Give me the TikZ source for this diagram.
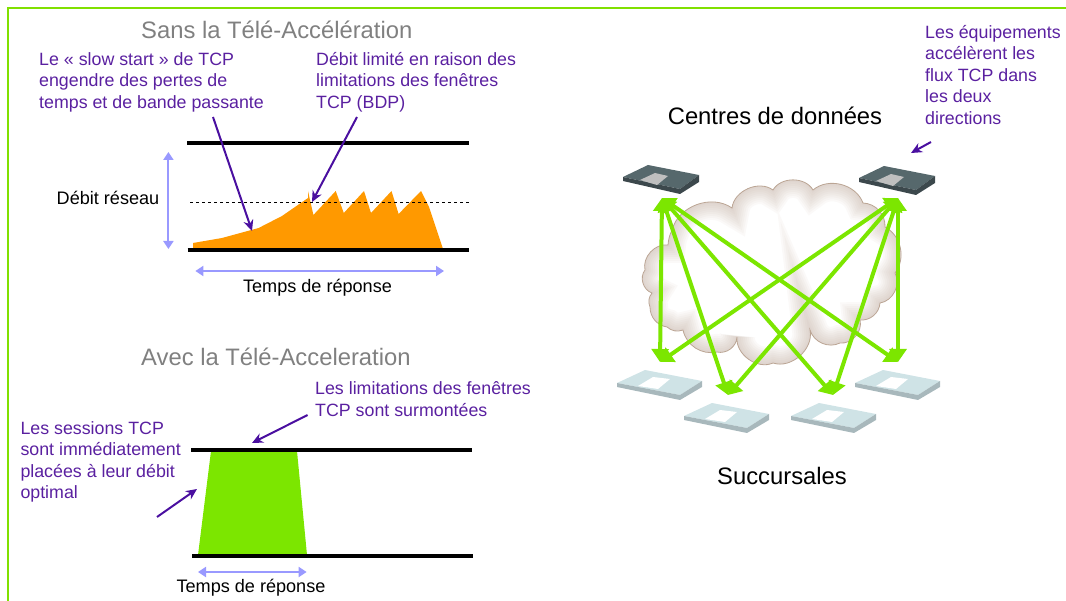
\documentclass[tikz,border=0pt]{standalone}
\usepackage{amsmath, xcolor}
\usepackage{fontspec}
\setmainfont{Liberation Sans}
\usetikzlibrary{arrows.meta}

\definecolor{framegreen}{HTML}{80E000}
\definecolor{flowgreen}{HTML}{7CE600}
\definecolor{notepurple}{HTML}{5A20A0}
\definecolor{arrowpurple}{HTML}{4A0FA0}
\definecolor{rangeblue}{HTML}{9999FF}
\definecolor{rateorange}{HTML}{FF9900}
\definecolor{cloudtan}{HTML}{BBA594}
\definecolor{darktop}{HTML}{56686C}
\definecolor{darkside}{HTML}{3C484C}
\definecolor{lighttop}{HTML}{CFE3E6}
\definecolor{lightside}{HTML}{A8B8BC}

\tikzset{
    plottitle/.style = {text = gray, font = \fontsize{23.8}{28}\selectfont, anchor = west, inner sep = 0},
    note/.style = {text = notepurple, font = \fontsize{17.8}{21.5}\selectfont, align = left, anchor = west, inner sep = 0},
    plain/.style = {font = \fontsize{18.1}{21}\selectfont, inner sep = 0},
    big/.style = {font = \fontsize{23.8}{28}\selectfont, inner sep = 0},
    bar/.style = {line width = 4.2pt},
    pointer/.style = {arrowpurple, line width = 2pt, -{Stealth[length = 11pt, width = 10pt]}},
    rangearrow/.style = {rangeblue, line width = 2pt, {Triangle[length = 8pt, width = 10pt]}-{Triangle[length = 8pt, width = 10pt]}},
    flow/.style = {flowgreen, line width = 4pt, {Triangle[length = 13pt, width = 17pt]}-{Triangle[length = 13pt, width = 17pt]}}
}

% device seen in perspective, #1 = left corner
\newcommand{\darkbox}[2]{
    \fill [shift = {(#1,#2)}, fill = darktop] (0,0) -- (25,-12) -- (76,-2) -- (57,12) -- cycle;
    \fill [shift = {(#1,#2)}, fill = darkside] (0,0) -- (57,12) -- (76,-2) -- (76,5) -- (57,17) -- (0,4) -- cycle;
    \fill [shift = {(#1,#2)}, fill = gray!50] (17,3) -- (32,-4) -- (45,-1) -- (34,8) -- cycle;
}
\newcommand{\lightbox}[2]{
    \fill [shift = {(#1,#2)}, fill = lighttop] (0,0) -- (28,-13) -- (85,-2) -- (63,12) -- cycle;
    \fill [shift = {(#1,#2)}, fill = lightside] (0,0) -- (63,12) -- (85,-2) -- (85,4) -- (63,17) -- (0,4) -- cycle;
    \fill [shift = {(#1,#2)}, fill = white] (21,3) -- (36,-6) -- (53,-4) -- (41,6) -- cycle;
}
\newcommand{\cloudpath}{
    (672,230) to [bend left = 55] (732,208) to [bend left = 60] (773,190) to [bend left = 60] (813,190)
    to [bend left = 55] (863,203) to [bend left = 45] (885,227) to [bend left = 50] (895,273)
    to [bend left = 55] (880,303) to [bend left = 45] (860,320) to [bend left = 55] (840,343)
    to [bend left = 50] (810,330) to [bend left = 60] (773,363) to [bend left = 60] (737,337)
    to [bend left = 50] (717,352) to [bend left = 45] (683,330) to [bend left = 30] (667,327)
    to [bend left = 40] (650,307) to [bend left = 30] (652,293) to [bend left = 55] (645,270)
    to [bend left = 55] (668,245) to [bend left = 10] cycle
}

\begin{document}
\begin{tikzpicture}[x = 1pt, y = -1pt]
    \useasboundingbox (0,0) rectangle (1066,601);
    \draw [framegreen, line width = 1.8pt] (1066,8) -- (8,8) -- (8,601);

    % upper left plot
    \node (sanstitle) at (141,30) [plottitle] {Sans la Télé-Accélération};
    \fill [rateorange] (193,249) -- (193,243) -- (222,238) -- (258.6,228) -- (282,216) -- (308,198) -- (308,191)
        -- (313.4,215) -- (335.7,191) -- (343.8,213) -- (364,191) -- (371,213) -- (391.5,191) -- (398.6,214) -- (421,191)
        -- (429,207) -- (443,249) -- cycle;
    \draw [bar] (187,143) -- (468.5,143);
    \draw [bar] (187.5,250) -- (469,250);
    \draw [dashed, line width = 0.7pt] (190,202) -- (469,202);
    \node (slownote) at (39,82) [note] {Le « slow start » de TCP\\engendre des pertes de\\temps et de bande passante};
    \node (bdpnote) at (316,82) [note] {Débit limité en raison des\\limitations des fenêtres\\TCP (BDP)};
    \node (sansrate) at (108,198) [plain] {Débit réseau};
    \node (sanstime) at (317.5,288) [plain] {Temps de réponse};
    \coordinate (slowfrom) at (213,117);
    \coordinate (slowto) at (252,231);
    \coordinate (bdpfrom) at (357,117);
    \coordinate (bdpto) at (312,202);
    \coordinate (ratetop) at (168.4,152);
    \coordinate (ratebottom) at (168.4,249);
    \coordinate (timeleft) at (195.4,271);
    \coordinate (timeright) at (444,271);
    \draw [pointer] (slowfrom) -- (slowto);
    \draw [pointer] (bdpfrom) -- (bdpto);
    \draw [rangearrow] (ratetop) -- (ratebottom);
    \draw [rangearrow] (timeleft) -- (timeright);

    % lower left plot
    \node (avectitle) at (141,357) [plottitle] {Avec la Télé-Acceleration};
    \fill [flowgreen] (211,451) -- (297,451) -- (307,555) -- (198,555) -- cycle;
    \draw [bar] (191,450) -- (472,450);
    \draw [bar] (192,556) -- (473,556);
    \node (limitnote) at (315,399) [note] {Les limitations des fenêtres\\TCP sont surmontées};
    \node (sessionnote) at (20.3,462) [note] {Les sessions TCP\\sont immédiatement\\placées à leur débit\\optimal};
    \node (avectime) at (251,588) [plain] {Temps de réponse};
    \coordinate (limitfrom) at (307.6,415);
    \coordinate (limitto) at (252,443);
    \coordinate (sessionfrom) at (157,517);
    \coordinate (sessionto) at (197,489);
    \coordinate (shortleft) at (198,572);
    \coordinate (shortright) at (306.6,572);
    \draw [pointer] (limitfrom) -- (limitto);
    \draw [pointer] (sessionfrom) -- (sessionto);
    \draw [rangearrow] (shortleft) -- (shortright);

    % cloud, with a soft inner edge
    \begin{scope}
        \clip \cloudpath;
        \fill [white] (600,150) rectangle (950,400);
        \foreach \w in {36,32,...,2}
            \draw [cloudtan, line width = \w pt, opacity = 0.06] \cloudpath;
    \end{scope}
    \draw [cloudtan, line width = 0.8pt] \cloudpath;

    \darkbox{623}{177}
    \darkbox{859}{178}
    \lightbox{617}{383}
    \lightbox{684}{416}
    \lightbox{791}{416}
    \lightbox{855}{383}

    \coordinate (dataleft) at (662,198);
    \coordinate (dataright) at (898,198);
    \coordinate (branchone) at (660,362);
    \coordinate (branchtwo) at (728,395);
    \coordinate (branchthree) at (833,395);
    \coordinate (branchfour) at (898,362);
    \foreach \d in {dataleft, dataright}
        \foreach \b in {branchone, branchtwo, branchthree, branchfour}
            \draw [flow] (\d) -- (\b);

    \node (centres) at (775,116) [big] {Centres de données};
    \node (succursales) at (782,476) [big] {Succursales};
    \node (flownote) at (925,75) [note] {Les équipements\\accélèrent les\\flux TCP dans\\les deux\\directions};
    \coordinate (flowfrom) at (931,142);
    \coordinate (flowto) at (911,153);
    \draw [pointer] (flowfrom) -- (flowto);
\end{tikzpicture}
\end{document}
